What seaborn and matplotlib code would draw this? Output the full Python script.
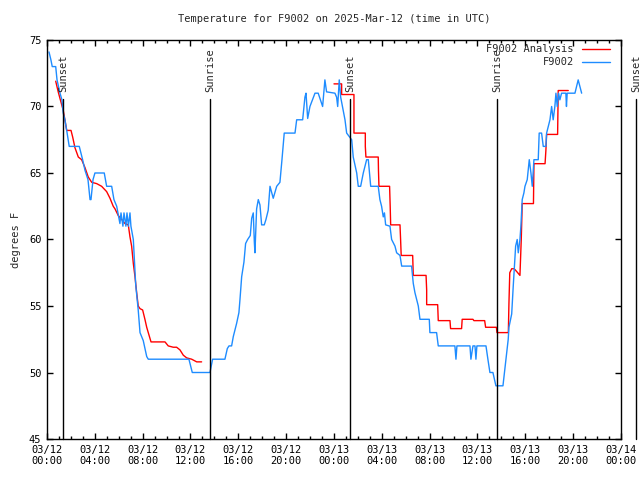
"""
Station temperature vs analysis for F9002, 2025-03-12/13 (UTC),
gnuplot-like look, drawn with seaborn lineplot.
"""

import numpy as np
import pandas as pd
import matplotlib
matplotlib.use('Agg')
import matplotlib.pyplot as plt
import matplotlib.dates as mdates
import seaborn as sns

START = pd.Timestamp('2025-03-12 00:00')

# Observations (hours after 03/12 00:00 UTC, degrees F)
obs_hours = [0.17, 0.33, 0.44, 0.73, 0.84, 1.09, 1.25, 1.36, 1.50, 1.65, 1.86, 2.70,
             2.98, 3.18, 3.43, 3.60, 3.68, 3.85, 4.01, 4.79, 4.99, 5.41, 5.60, 5.83,
             6.10, 6.19, 6.35, 6.44, 6.60, 6.69, 6.81, 6.94, 7.02, 7.22, 7.42, 7.63,
             7.78, 8.05, 8.34, 8.47, 11.87, 12.15, 13.63, 13.85, 14.88, 15.08, 15.22,
             15.44, 15.58, 15.86, 16.05, 16.14, 16.28, 16.47, 16.61, 16.78, 17.00,
             17.12, 17.25, 17.34, 17.39, 17.53, 17.67, 17.81, 17.95, 18.17, 18.31,
             18.50, 18.65, 18.92, 19.21, 19.48, 19.65, 19.84, 20.74, 20.88, 21.38,
             21.57, 21.66, 21.80, 21.99, 22.41, 22.68, 23.05, 23.24, 23.38, 24.08,
             24.22, 24.31, 24.44, 24.56, 24.77, 24.92, 25.06, 25.48, 25.61, 25.90,
             26.03, 26.23, 26.45, 26.73, 26.87, 27.07, 27.70, 27.84, 27.98, 28.12,
             28.22, 28.32, 28.68, 28.82, 29.10, 29.24, 29.52, 29.66, 30.49, 30.63,
             30.77, 31.05, 31.19, 31.97, 32.02, 32.58, 32.72, 34.11, 34.20, 34.28,
             35.37, 35.45, 35.62, 35.79, 35.87, 35.95, 36.71, 36.87, 37.04, 37.29,
             37.54, 38.13, 38.38, 38.57, 38.63, 38.86, 38.99, 39.19, 39.32, 39.41,
             39.55, 39.63, 39.74, 39.88, 39.97, 40.16, 40.33, 40.47, 40.58, 40.72,
             41.08, 41.16, 41.36, 41.50, 41.72, 41.78, 41.92, 42.06, 42.20, 42.33,
             42.47, 42.56, 42.67, 42.78, 42.89, 43.03, 43.39, 43.44, 43.50, 44.15,
             44.42, 44.71]
obs_temps = [74.1, 73.5, 73.0, 73.0, 72.0, 71.0, 70.5, 69.5, 69.0, 68.2, 67.0, 67.0,
             66.0, 65.2, 64.5, 63.0, 63.0, 64.5, 65.0, 65.0, 64.0, 64.0, 63.0, 62.5,
             61.2, 62.0, 61.0, 62.0, 61.0, 62.0, 61.0, 62.0, 61.0, 60.0, 56.6, 54.7,
             53.0, 52.4, 51.2, 51.0, 51.0, 50.0, 50.0, 51.0, 51.0, 51.8, 52.0,
             52.0, 52.7, 53.7, 54.5, 55.5, 57.2, 58.3, 59.7, 60.0, 60.3,
             61.6, 62.0, 59.8, 59.0, 62.3, 63.0, 62.6, 61.1, 61.1, 61.5,
             62.2, 64.0, 63.1, 64.0, 64.3, 66.0, 68.0, 68.0, 69.0, 69.0,
             70.7, 71.0, 69.1, 70.0, 71.0, 71.0, 70.0, 72.0, 71.1, 71.0,
             70.7, 70.0, 72.0, 70.7, 69.7, 69.0, 68.0, 67.5, 66.2, 65.0,
             64.0, 64.0, 65.0, 66.0, 66.0, 64.0, 64.0, 63.0, 62.5, 61.7,
             62.0, 61.1, 61.0, 60.0, 59.5, 59.0, 58.8, 58.0, 58.0, 56.7,
             56.0, 55.0, 54.0, 54.0, 53.0, 53.0, 52.0, 52.0, 51.0, 52.0,
             52.0, 51.0, 52.0, 52.0, 51.0, 52.0, 52.0, 51.0, 50.0, 50.0,
             49.0, 49.0, 51.0, 52.5, 53.4, 54.4, 56.5, 59.5, 60.0, 59.0,
             60.0, 61.0, 63.0, 63.5, 64.0, 64.5, 66.0, 65.0, 64.0, 66.0,
             66.0, 68.0, 68.0, 67.0, 67.0, 68.0, 68.5, 69.0, 70.0, 69.0,
             70.0, 71.0, 70.0, 71.0, 70.5, 71.0, 71.0, 70.0, 71.0, 71.0,
             72.0, 71.0]

# Analysis, first day (fine steps)
anl1_hours = [0.73, 0.94, 1.15, 1.36, 1.50, 1.65, 2.01, 2.15, 2.34, 2.62, 2.90, 3.18,
              3.45, 3.74, 4.16, 4.57, 4.99, 5.27, 5.54, 5.69, 5.96, 6.25, 6.52, 6.80,
              6.94, 7.08, 7.22, 7.36, 7.50, 7.63, 7.78, 8.00, 8.19, 8.34, 8.47, 8.70,
              9.31, 9.87, 10.14, 10.56, 10.84, 11.12, 11.40, 11.68, 12.10, 12.52, 12.93]
anl1_temps = [71.9, 71.1, 70.4, 69.7, 69.0, 68.2, 68.2, 67.7, 66.9, 66.2, 66.0, 65.4,
              64.7, 64.3, 64.2, 64.0, 63.6, 63.1, 62.5, 62.3, 61.8, 61.5, 61.2, 61.1,
              60.2, 59.5, 58.2, 57.2, 56.0, 55.0, 54.8, 54.7, 54.0, 53.4, 53.0, 52.3,
              52.3, 52.3, 52.0, 51.9, 51.9, 51.7, 51.3, 51.1, 51.0, 50.8, 50.8]

# Analysis, second day (hourly steps)
anl2_hours = [24.00, 24.64, 24.64, 25.67, 25.67, 26.62, 26.62, 26.67, 27.70, 27.72,
              27.76, 28.65, 28.70, 28.74, 29.52, 29.57, 29.62, 30.58, 30.63, 31.70,
              31.75, 31.75, 32.67, 32.72, 33.70, 33.75, 34.67, 34.72, 35.62, 35.70,
              36.60, 36.68, 37.58, 37.63, 38.58, 38.63, 38.70, 38.86, 39.07, 39.27,
              39.55, 39.66, 39.74, 40.68, 40.72, 41.65, 41.72, 41.78, 42.70, 42.75,
              43.59]
anl2_temps = [71.7, 71.7, 70.9, 70.9, 68.0, 68.0, 67.0, 66.2, 66.2, 65.2,
              64.0, 64.0, 62.5, 61.1, 61.1, 60.0, 58.8, 58.8, 57.3, 57.3,
              56.2, 55.1, 55.1, 53.9, 53.9, 53.3, 53.3, 54.0, 54.0, 53.9,
              53.9, 53.4, 53.4, 53.0, 53.0, 55.2, 57.5, 57.8, 57.8, 57.6,
              57.3, 60.0, 62.7, 62.7, 65.7, 65.7, 66.7, 67.9, 67.9, 71.2,
              71.2]

# Sun events
sun_hours = [1.36, 13.63, 25.33, 37.63, 49.25]
sun_labels = ['Sunset', 'Sunrise', 'Sunset', 'Sunrise', 'Sunset']


def to_time(hours):
    return START + pd.to_timedelta(np.asarray(hours), unit='h')


RED = '#FF0000'
BLUE = '#1E8CFF'

sns.set_style('ticks', {'xtick.direction': 'in', 'ytick.direction': 'in',
                        'axes.edgecolor': 'black'})
plt.rcParams['font.family'] = ['DejaVu Sans Mono', 'DejaVu Sans']
plt.rcParams['font.size'] = 7.5

fig = plt.figure(figsize=(6.4, 4.8), dpi=100)
ax = fig.add_axes([0.0734, 0.0854, 0.8969, 0.8313])

sns.lineplot(x=to_time(anl1_hours), y=anl1_temps, color=RED, lw=1.0,
             sort=False, estimator=None, ax=ax)
sns.lineplot(x=to_time(anl2_hours), y=anl2_temps, color=RED, lw=1.0,
             sort=False, estimator=None, ax=ax)
sns.lineplot(x=to_time(obs_hours), y=obs_temps, color=BLUE, lw=1.0,
             sort=False, estimator=None, ax=ax)

# sunrise / sunset markers (last one sits past the right edge)
for t, lab in zip(to_time(sun_hours), sun_labels):
    ax.plot([t, t], [45, 70.56], color='black', lw=1.0, clip_on=False)
    ax.text(t, 71.1, lab, rotation=90, ha='center', va='bottom',
            fontsize=7.5, clip_on=False)

ax.set_xlim(START, START + pd.Timedelta(hours=48))
ax.set_ylim(45, 75)
ax.set_yticks(range(45, 76, 5))
ax.xaxis.set_major_locator(mdates.HourLocator(byhour=range(0, 24, 4)))
ax.xaxis.set_minor_locator(mdates.HourLocator())
ax.xaxis.set_major_formatter(mdates.DateFormatter('%m/%d\n%H:%M'))

ax.tick_params(which='both', top=True, right=True, direction='in',
               width=1.0, colors='black', labelsize=7.5)
ax.tick_params(which='major', length=4.5, pad=4)
ax.tick_params(which='minor', length=2.5)
for sp in ax.spines.values():
    sp.set_visible(True)
    sp.set_linewidth(1.0)

ax.set_xlabel('')
ax.set_ylabel('degrees F', fontsize=7.5, labelpad=6)
ax.set_title('Temperature for F9002 on 2025-Mar-12 (time in UTC)',
             fontsize=7.5, pad=13)

# gnuplot-style key: text right-aligned, sample line to the right
for ypos, lab, col in [(0.977, 'F9002 Analysis', RED), (0.945, 'F9002', BLUE)]:
    ax.text(0.918, ypos, lab, transform=ax.transAxes, ha='right', va='center',
            fontsize=7.5)
    ax.plot([0.932, 0.981], [ypos, ypos], transform=ax.transAxes, color=col, lw=1.0)

fig.savefig('out.png', dpi=100)
